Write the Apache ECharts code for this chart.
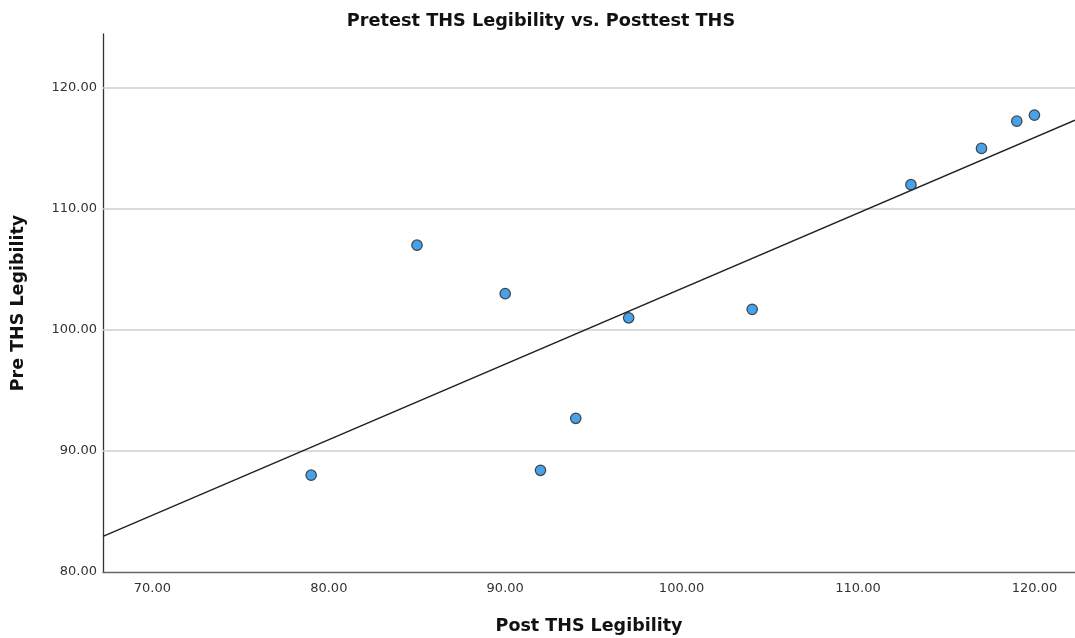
<!DOCTYPE html>
<html>
<head>
<meta charset="utf-8">
<script src="https://cdn.jsdelivr.net/npm/echarts@6/dist/echarts.min.js"></script>
<style>html,body{margin:0;padding:0;background:#fff}#chart{width:1075px;height:638px}</style>
</head>
<body>
<div id="chart"></div>
<script>
const title = 'Pretest THS Legibility vs. Posttest THS';
const xName = 'Post THS Legibility';
const yName = 'Pre THS Legibility';
const postTHS = [79, 85, 90, 92, 94, 97, 104, 113, 117, 119, 120];
const preTHS = [88, 107, 103, 88.4, 92.7, 101, 101.7, 112, 115, 117.25, 117.75];
const xTicks = [70, 80, 90, 100, 110, 120];
const yTicks = [80, 90, 100, 110, 120];
const gridLines = [90, 100, 110, 120];
const xMin = 67.2, xMax = 122.3, yMin = 80, yMax = 124.45;

// least-squares fit line (drawn across the full x range)
const n = postTHS.length;
const mx = postTHS.reduce((a, b) => a + b, 0) / n;
const my = preTHS.reduce((a, b) => a + b, 0) / n;
let sxy = 0, sxx = 0;
for (let i = 0; i < n; i++) { sxy += (postTHS[i] - mx) * (preTHS[i] - my); sxx += (postTHS[i] - mx) ** 2; }
const slope = sxy / sxx, icpt = my - slope * mx;
const fitLine = [[xMin, icpt + slope * xMin], [xMax, icpt + slope * xMax]];

const chart = echarts.init(document.getElementById('chart'), null, {renderer: 'canvas'});
const fontFam = '"DejaVu Sans", "Liberation Sans", sans-serif';
chart.setOption({
  animation: false,
  backgroundColor: '#fff',
  title: {
    text: title, left: 536, top: 7, textAlign: 'center',
    textStyle: {fontFamily: fontFam, fontWeight: 'bold', fontSize: 17.7, color: '#111'}
  },
  grid: {left: 103, right: 0, top: 34, bottom: 66, containLabel: false, outerBoundsMode: 'none'},
  xAxis: {
    type: 'value', min: xMin, max: xMax,
    name: xName, nameLocation: 'middle', nameGap: 45,
    nameTextStyle: {fontFamily: fontFam, fontWeight: 'bold', fontSize: 17.5, color: '#111'},
    axisLine: {show: true, lineStyle: {color: '#666', width: 1.3}},
    axisTick: {show: false},
    splitLine: {show: false},
    axisLabel: {customValues: xTicks, formatter: v => v.toFixed(2), fontFamily: fontFam, fontSize: 13, color: '#333', margin: 10}
  },
  yAxis: {
    type: 'value', min: yMin, max: yMax,
    name: yName, nameLocation: 'middle', nameGap: 76, nameRotate: 90,
    nameTextStyle: {fontFamily: fontFam, fontWeight: 'bold', fontSize: 17.5, color: '#111'},
    axisLine: {show: true, lineStyle: {color: '#333', width: 1.3}},
    axisTick: {show: false},
    splitLine: {show: false},
    axisLabel: {customValues: yTicks, formatter: v => v.toFixed(2), fontFamily: fontFam, fontSize: 13, color: '#333', margin: 6}
  },
  series: [
    {
      type: 'line', data: fitLine, showSymbol: false, symbol: 'none',
      lineStyle: {color: '#222', width: 1.5}, z: 3,
      markLine: {
        silent: true, symbol: 'none', label: {show: false}, z: 1,
        lineStyle: {color: '#cfcfcf', width: 1.5, type: 'solid'},
        data: gridLines.map(v => ({yAxis: v}))
      }
    },
    {
      type: 'scatter', data: postTHS.map((x, i) => [x, preTHS[i]]),
      symbol: 'circle', symbolSize: 10.5, z: 4,
      itemStyle: {color: '#1b8ae2', borderColor: '#222', borderWidth: 1.2}
    }
  ]
});
</script>
</body>
</html>
